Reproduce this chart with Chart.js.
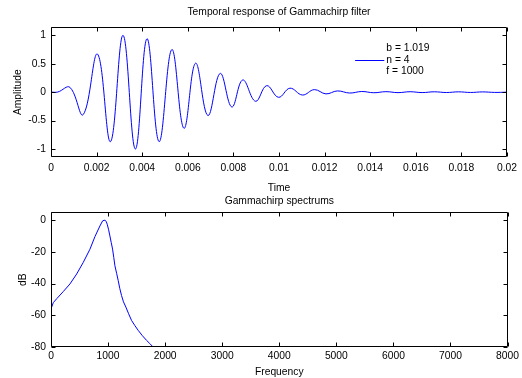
<!DOCTYPE html>
<html>
<head>
<meta charset="utf-8">
<script src="https://cdn.jsdelivr.net/npm/chart.js@4.4.1/dist/chart.umd.min.js"></script>
<style>
  body { margin: 0; background: #fff; }
  #wrap { position: relative; width: 522px; height: 378px; }
  canvas { position: absolute; left: 0; }
  #c1 { top: 0; }
  #c2 { top: 195px; }
</style>
</head>
<body>
<div id="wrap">
  <canvas id="c1" width="522" height="195"></canvas>
  <canvas id="c2" width="522" height="183"></canvas>
</div>
<script>
// top plot: temporal response (peaks / troughs)
const timeValues = [0, 0.0003, 0.00083, 0.00141, 0.00204, 0.00261, 0.00316, 0.0037, 0.00421, 0.00474,
  0.0053, 0.00583, 0.00634, 0.00688, 0.00742, 0.00793, 0.00841, 0.00897, 0.00946, 0.00998,
  0.01048, 0.01103, 0.01155, 0.01206, 0.01256, 0.0131, 0.01363, 0.01416, 0.01469, 0.01522,
  0.01575, 0.01628, 0.01681, 0.01734, 0.01787, 0.0184, 0.01893, 0.01946, 0.02];
const amplitudeValues = [0, 0.003, 0.085, -0.395, 0.67, -0.87, 1.0, -1.0, 0.94, -0.87,
  0.75, -0.635, 0.51, -0.41, 0.33, -0.26, 0.215, -0.16, 0.115, -0.09,
  0.07, -0.05, 0.045, -0.03, 0.022, -0.015, 0.012, -0.01, 0.009, -0.008,
  0.008, -0.007, 0.007, -0.006, 0.006, -0.005, 0.005, -0.004, 0];

// bottom plot: spectrum
const freqValues = [0, 40, 100, 215, 332, 450, 565, 682, 770, 857, 904, 930, 950, 970, 985,
  1010, 1032, 1055, 1079, 1100, 1120, 1150, 1178, 1205, 1236, 1270, 1312, 1360, 1411,
  1470, 1528, 1600, 1674, 1730, 1790];
const dbValues = [-56, -52, -49.5, -45, -40.2, -33.9, -26.6, -18.3, -10.3, -3.6, -0.4, 0, 0, -1, -2.5,
  -6, -9.9, -14, -18.2, -23.5, -28.7, -33.5, -38.1, -43, -47.5, -51.5, -54.8, -59, -63.2,
  -66.5, -69.5, -72.8, -75.8, -77.8, -80];

const timeTicks = [0, 0.002, 0.004, 0.006, 0.008, 0.01, 0.012, 0.014, 0.016, 0.018, 0.02];
const ampTicks = [-1, -0.5, 0, 0.5, 1];
const freqTicks = [0, 1000, 2000, 3000, 4000, 5000, 6000, 7000, 8000];
const dbTicks = [-80, -60, -40, -20, 0];

const legendLines = ['b = 1.019', 'n = 4', 'f = 1000'];

const FONT = '"Liberation Sans", Arial, Helvetica, sans-serif';
Chart.defaults.font.family = FONT;
Chart.defaults.font.size = 10.3;
Chart.defaults.color = '#000';

const toPoints = (xs, ys) => xs.map((x, i) => ({ x: x, y: ys[i] }));
const fixTicks = list => scale => { scale.ticks = list.map(v => ({ value: v })); };

// matlab style box with inward ticks on all sides
const axesBox = {
  id: 'axesBox',
  afterDatasetsDraw(chart) {
    const { ctx, chartArea: a, scales } = chart;
    const L = Math.round(a.left) + 0.5, R = Math.round(a.right) - 0.5;
    const T = Math.round(a.top) + 0.5, B = Math.round(a.bottom) - 0.5;
    ctx.save();
    ctx.strokeStyle = '#000';
    ctx.lineWidth = 1;
    ctx.beginPath();
    ctx.rect(L, T, R - L, B - T);
    scales.x.ticks.forEach((t, i) => {
      const p = Math.round(scales.x.getPixelForTick(i)) + 0.5;
      ctx.moveTo(p, B); ctx.lineTo(p, B - 4);
      ctx.moveTo(p, T); ctx.lineTo(p, T + 4);
    });
    scales.y.ticks.forEach((t, i) => {
      const p = Math.round(scales.y.getPixelForTick(i)) + 0.5;
      ctx.moveTo(L, p); ctx.lineTo(L + 4, p);
      ctx.moveTo(R, p); ctx.lineTo(R - 4, p);
    });
    ctx.stroke();
    ctx.restore();
  }
};

const legendBox = {
  id: 'legendBox',
  afterDatasetsDraw(chart) {
    if (!chart.options.plugins.legendBox) return;
    const { ctx, chartArea: a } = chart;
    const x0 = a.left + (a.right - a.left) * 0.667;
    const x1 = a.left + (a.right - a.left) * 0.731;
    const yMid = a.top + (a.bottom - a.top) * 0.25;
    ctx.save();
    ctx.strokeStyle = '#0000ff';
    ctx.lineWidth = 1;
    ctx.beginPath();
    ctx.moveTo(x0, Math.round(yMid) + 0.5);
    ctx.lineTo(x1, Math.round(yMid) + 0.5);
    ctx.stroke();
    ctx.fillStyle = '#000';
    ctx.font = '10.3px ' + FONT;
    ctx.textBaseline = 'middle';
    legendLines.forEach((s, i) => ctx.fillText(s, x1 + 2, yMid + (i - 1) * 11.7));
    ctx.restore();
  }
};

function makeChart(id, o) {
  return new Chart(document.getElementById(id), {
    type: 'line',
    data: {
      datasets: [{
        data: o.points,
        borderColor: '#0000ff',
        borderWidth: 1,
        pointRadius: 0,
        tension: o.tension,
        fill: false
      }]
    },
    options: {
      responsive: false,
      animation: false,
      layout: { padding: { left: 0, right: 14, top: 0, bottom: 0 } },
      plugins: {
        legend: { display: false },
        tooltip: { enabled: false },
        title: { display: true, fullSize: false, text: o.title, color: '#000', font: { size: 10.3, weight: 'normal' }, padding: o.titlePad },
        legendBox: o.legend
      },
      scales: {
        x: {
          type: 'linear', min: o.xMin, max: o.xMax,
          afterBuildTicks: fixTicks(o.xTicks),
          afterFit: s => { s.height = o.xHeight; },
          grid: { display: false, drawTicks: false },
          border: { display: false },
          ticks: { padding: o.xTickPad, maxRotation: 0, autoSkip: false, callback: v => String(v) },
          title: { display: true, text: o.xLabel, color: '#000', padding: { top: 0, bottom: o.xTitlePad } }
        },
        y: {
          type: 'linear', min: o.yMin, max: o.yMax,
          afterBuildTicks: fixTicks(o.yTicks),
          afterFit: s => { s.width = 51; },
          grid: { display: false, drawTicks: false },
          border: { display: false },
          ticks: { padding: 5, autoSkip: false, callback: v => String(v) },
          title: { display: true, text: o.yLabel, color: '#000', padding: { top: o.yTitlePad, bottom: 0 } }
        }
      }
    },
    plugins: [axesBox, legendBox]
  });
}

makeChart('c1', {
  points: toPoints(timeValues, amplitudeValues),
  tension: 0.4,
  title: 'Temporal response of Gammachirp filter',
  titlePad: { top: 6, bottom: 9 },
  xMin: 0, xMax: 0.02, xTicks: timeTicks, xLabel: 'Time', xHeight: 38, xTickPad: 5, xTitlePad: 0.5,
  yMin: -1.14, yMax: 1.14, yTicks: ampTicks, yLabel: 'Amplitude', yTitlePad: 12,
  legend: true
});

makeChart('c2', {
  points: toPoints(freqValues, dbValues),
  tension: 0,
  title: 'Gammachirp spectrums',
  titlePad: { top: 0, bottom: 5 },
  xMin: 0, xMax: 8000, xTicks: freqTicks, xLabel: 'Frequency', xHeight: 31, xTickPad: 3, xTitlePad: 0,
  yMin: -80, yMax: 5, yTicks: dbTicks, yLabel: 'dB', yTitlePad: 16.5,
  legend: false
});
</script>
</body>
</html>
